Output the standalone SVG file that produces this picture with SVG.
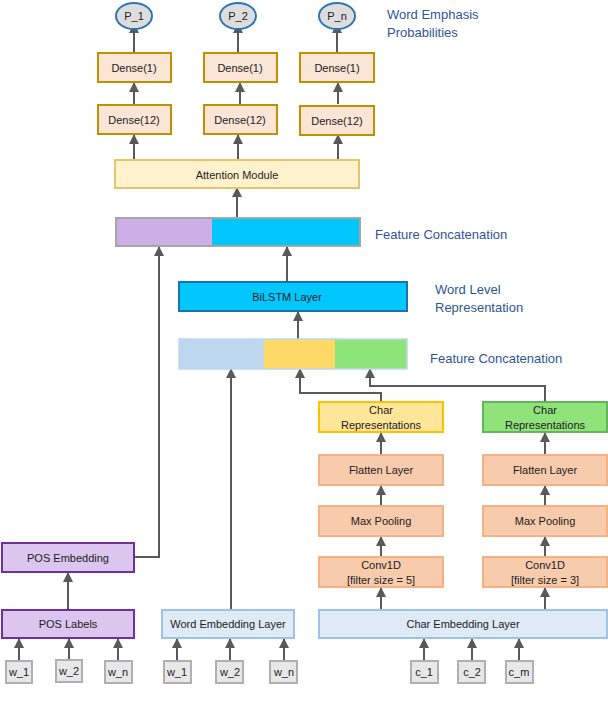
<svg xmlns="http://www.w3.org/2000/svg" width="608" height="718" viewBox="0 0 608 718">
<defs>
<marker id="ah" viewBox="0 0 10 10" refX="9" refY="5" markerWidth="5" markerHeight="5" orient="auto"><path d="M0,0L10,5L0,10z" fill="#595959"/></marker>
<style>
text{font-family:"Liberation Sans",Arial,sans-serif;font-size:11px;fill:#222;text-anchor:middle}
.lbl{font-size:13px;fill:#2f5597;text-anchor:start}
.dense{fill:#fbe5d6;stroke:#bf9000;stroke-width:2}
.org{fill:#f8cbad;stroke:#f4b183;stroke-width:2}
.emb{fill:#deebf7;stroke:#9dc3e6;stroke-width:2}
.pos{fill:#dcc6ef;stroke:#7030a0;stroke-width:2}
.inp{fill:#e8e8e8;stroke:#b0b0b0;stroke-width:2}
.ell{fill:#dddddd;stroke:#2e75b6;stroke-width:2}
.c path{fill:none;stroke:#595959;stroke-width:2;marker-end:url(#ah)}
</style>
</defs>
<rect width="608" height="718" fill="#fff"/>
<g class="c" id="connectors">
<path d="M134,53V24"/><path d="M238,53V24"/><path d="M337,53V24"/>
<path d="M134,104V83"/><path d="M240,104V83"/><path d="M338,104V83"/>
<path d="M134,160V135"/><path d="M238,160V135"/><path d="M338,160V135"/>
<path d="M237,218V188"/>
<path d="M287,282V247"/>
<path d="M298,339V312"/>
<path d="M159,557H134" style="marker-end:none"/><path d="M159,558V247"/>
<path d="M231,610V369"/>
<path d="M381,402V393H300V369"/>
<path d="M545,402V386H370V369"/>
<path d="M381,455V433"/><path d="M545,455V433"/>
<path d="M381,506V486"/><path d="M545,506V486"/>
<path d="M381,557V537"/><path d="M545,557V537"/>
<path d="M381,610V588"/><path d="M545,610V588"/>
<path d="M68,610V573"/>
<path d="M19,661V639"/><path d="M69,661V639"/><path d="M118,661V639"/>
<path d="M177,661V639"/><path d="M230,661V639"/><path d="M284,661V639"/>
<path d="M424,661V639"/><path d="M472,661V639"/><path d="M519,661V639"/>
</g>
<g id="p1"><ellipse class="ell" cx="134" cy="16" rx="18" ry="13"/><text x="134" y="20">P_1</text></g>
<g id="p2"><ellipse class="ell" cx="238" cy="16" rx="18" ry="13"/><text x="238" y="20">P_2</text></g>
<g id="pn"><ellipse class="ell" cx="337" cy="16" rx="18" ry="13"/><text x="337" y="20">P_n</text></g>
<text class="lbl" x="387" y="19">Word Emphasis</text><text class="lbl" x="387" y="37">Probabilities</text>
<g id="d1a"><rect class="dense" x="98" y="53" width="73" height="29"/><text x="134" y="72">Dense(1)</text></g>
<g id="d1b"><rect class="dense" x="204" y="53" width="73" height="29"/><text x="240" y="72">Dense(1)</text></g>
<g id="d1c"><rect class="dense" x="300" y="53" width="74" height="29"/><text x="337" y="72">Dense(1)</text></g>
<g id="d12a"><rect class="dense" x="98" y="105" width="73" height="29"/><text x="134" y="124">Dense(12)</text></g>
<g id="d12b"><rect class="dense" x="204" y="105" width="73" height="29"/><text x="240" y="124">Dense(12)</text></g>
<g id="d12c"><rect class="dense" x="300" y="106" width="74" height="29"/><text x="337" y="125">Dense(12)</text></g>
<g id="att"><rect x="115" y="160" width="244" height="28" fill="#fff2cc" stroke="#e3c56b" stroke-width="2"/><text x="237" y="179">Attention Module</text></g>
<g id="concat1"><rect x="116" y="218" width="96" height="28" fill="#cdaee6"/><rect x="212" y="218" width="148" height="28" fill="#00c8ff"/><rect x="116" y="218" width="244" height="28" fill="none" stroke="#a6a6a6" stroke-width="2"/></g>
<text class="lbl" x="375" y="239">Feature Concatenation</text>
<g id="bilstm"><rect x="179" y="282" width="228" height="29" fill="#00c8ff" stroke="#1f6fb3" stroke-width="2"/><text x="287" y="301">BiLSTM Layer</text></g>
<text class="lbl" x="435" y="294">Word Level</text><text class="lbl" x="435" y="312">Representation</text>
<g id="concat2"><rect x="179" y="339" width="85" height="30" fill="#bdd7ee"/><rect x="264" y="339" width="71" height="30" fill="#ffd966"/><rect x="335" y="339" width="72" height="30" fill="#8de57a"/><rect x="179" y="339" width="228" height="30" fill="none" stroke="#bdd7ee" stroke-width="1.5"/></g>
<text class="lbl" x="430" y="363">Feature Concatenation</text>
<g id="crY"><rect x="319" y="402" width="124" height="30" fill="#ffe699" stroke="#ffc000" stroke-width="2"/><text x="381" y="414">Char</text><text x="381" y="429">Representations</text></g>
<g id="crG"><rect x="483" y="402" width="124" height="30" fill="#8fe37a" stroke="#62b859" stroke-width="2"/><text x="545" y="414">Char</text><text x="545" y="429">Representations</text></g>
<g id="flA"><rect class="org" x="319" y="455" width="124" height="30"/><text x="381" y="474">Flatten Layer</text></g>
<g id="flB"><rect class="org" x="483" y="455" width="124" height="30"/><text x="545" y="474">Flatten Layer</text></g>
<g id="mpA"><rect class="org" x="319" y="506" width="124" height="30"/><text x="381" y="525">Max Pooling</text></g>
<g id="mpB"><rect class="org" x="483" y="506" width="124" height="30"/><text x="545" y="525">Max Pooling</text></g>
<g id="cvA"><rect class="org" x="319" y="557" width="124" height="30"/><text x="381" y="569">Conv1D</text><text x="381" y="584">[filter size = 5]</text></g>
<g id="cvB"><rect class="org" x="483" y="557" width="124" height="30"/><text x="545" y="569">Conv1D</text><text x="545" y="584">[filter size = 3]</text></g>
<g id="posE"><rect class="pos" x="2" y="543" width="132" height="29"/><text x="68" y="562">POS Embedding</text></g>
<g id="posL"><rect class="pos" x="2" y="610" width="132" height="28"/><text x="68" y="628">POS Labels</text></g>
<g id="wemb"><rect class="emb" x="162" y="610" width="132" height="28"/><text x="228" y="628">Word Embedding Layer</text></g>
<g id="cemb"><rect class="emb" x="319" y="610" width="288" height="28"/><text x="463" y="628">Char Embedding Layer</text></g>
<g id="i1"><rect class="inp" x="6" y="661" width="26" height="22"/><text x="19" y="676">w_1</text></g>
<g id="i2"><rect class="inp" x="56" y="660" width="26" height="22"/><text x="69" y="675">w_2</text></g>
<g id="i3"><rect class="inp" x="105" y="661" width="27" height="22"/><text x="118" y="676">w_n</text></g>
<g id="i4"><rect class="inp" x="164" y="661" width="27" height="22"/><text x="177" y="676">w_1</text></g>
<g id="i5"><rect class="inp" x="216" y="661" width="27" height="22"/><text x="230" y="676">w_2</text></g>
<g id="i6"><rect class="inp" x="270" y="661" width="27" height="22"/><text x="284" y="676">w_n</text></g>
<g id="i7"><rect class="inp" x="411" y="661" width="27" height="22"/><text x="424" y="676">c_1</text></g>
<g id="i8"><rect class="inp" x="458" y="661" width="27" height="22"/><text x="472" y="676">c_2</text></g>
<g id="i9"><rect class="inp" x="506" y="661" width="27" height="22"/><text x="519" y="676">c_m</text></g>
</svg>
